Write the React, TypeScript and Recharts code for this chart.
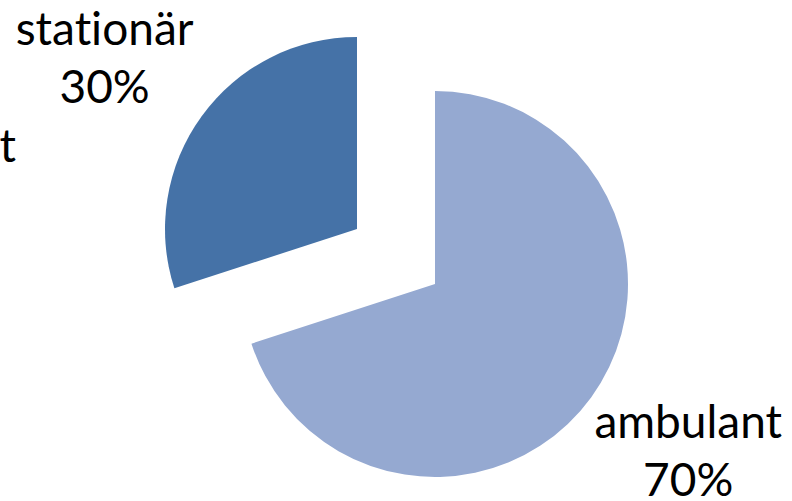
import { PieChart, Pie, Cell } from 'recharts'

document.body.style.margin = '0'

const categories = ['ambulant', 'stationär']
const shares = [70, 30]
const colors = ['#95A9D1', '#4572A7']

const data = categories.map((name, i) => ({ name, value: shares[i] }))

const RADIAN = Math.PI / 180
const FONT = 'Lato, "Open Sans", sans-serif'
const noLiga = { fontVariantLigatures: 'none' as const, fontFeatureSettings: '"liga" 0' }

// label outside the slice, two lines: name and percent
const makeLabel = (showIndex: number) => (props: any) => {
  const { cx, cy, midAngle, outerRadius, percent, index, name } = props
  if (index !== showIndex) return null
  const x = cx + (outerRadius + 120) * Math.cos(-midAngle * RADIAN)
  const y = cy + (outerRadius + 95) * Math.sin(-midAngle * RADIAN)
  return (
    <text x={x} y={y} textAnchor="middle" fill="#000" fontFamily={FONT} fontSize={46} style={noLiga}>
      <tspan x={x} dy={-15}>{name}</tspan>
      <tspan x={x} dy={58}>{`${Math.round(percent * 100)}%`}</tspan>
    </text>
  )
}

export default function App() {
  return (
    <div style={{ position: 'relative', width: 792, height: 501, background: '#fff' }}>
      <PieChart width={792} height={501} margin={{ top: 0, right: 0, bottom: 0, left: 0 }}>
        {/* ambulant slice at the main centre */}
        <Pie
          data={data} dataKey="value" nameKey="name"
          cx={435} cy={284} outerRadius={193}
          startAngle={90} endAngle={-270}
          stroke="none" labelLine={false} label={makeLabel(0)}
          isAnimationActive={false}
        >
          {data.map((d, i) => (
            <Cell key={d.name} fill={i === 0 ? colors[0] : 'transparent'} />
          ))}
        </Pie>
        {/* stationär slice, pulled out */}
        <Pie
          data={data} dataKey="value" nameKey="name"
          cx={357} cy={229} outerRadius={192}
          startAngle={90} endAngle={-270}
          stroke="none" labelLine={false} label={makeLabel(1)}
          isAnimationActive={false}
        >
          {data.map((d, i) => (
            <Cell key={d.name} fill={i === 1 ? colors[1] : 'transparent'} />
          ))}
        </Pie>
      </PieChart>
      <svg width={40} height={200} style={{ position: 'absolute', left: 0, top: 0 }}>
        <text x={16} y={162} textAnchor="end" fontFamily={FONT} fontSize={46} fill="#000">t</text>
      </svg>
    </div>
  )
}
